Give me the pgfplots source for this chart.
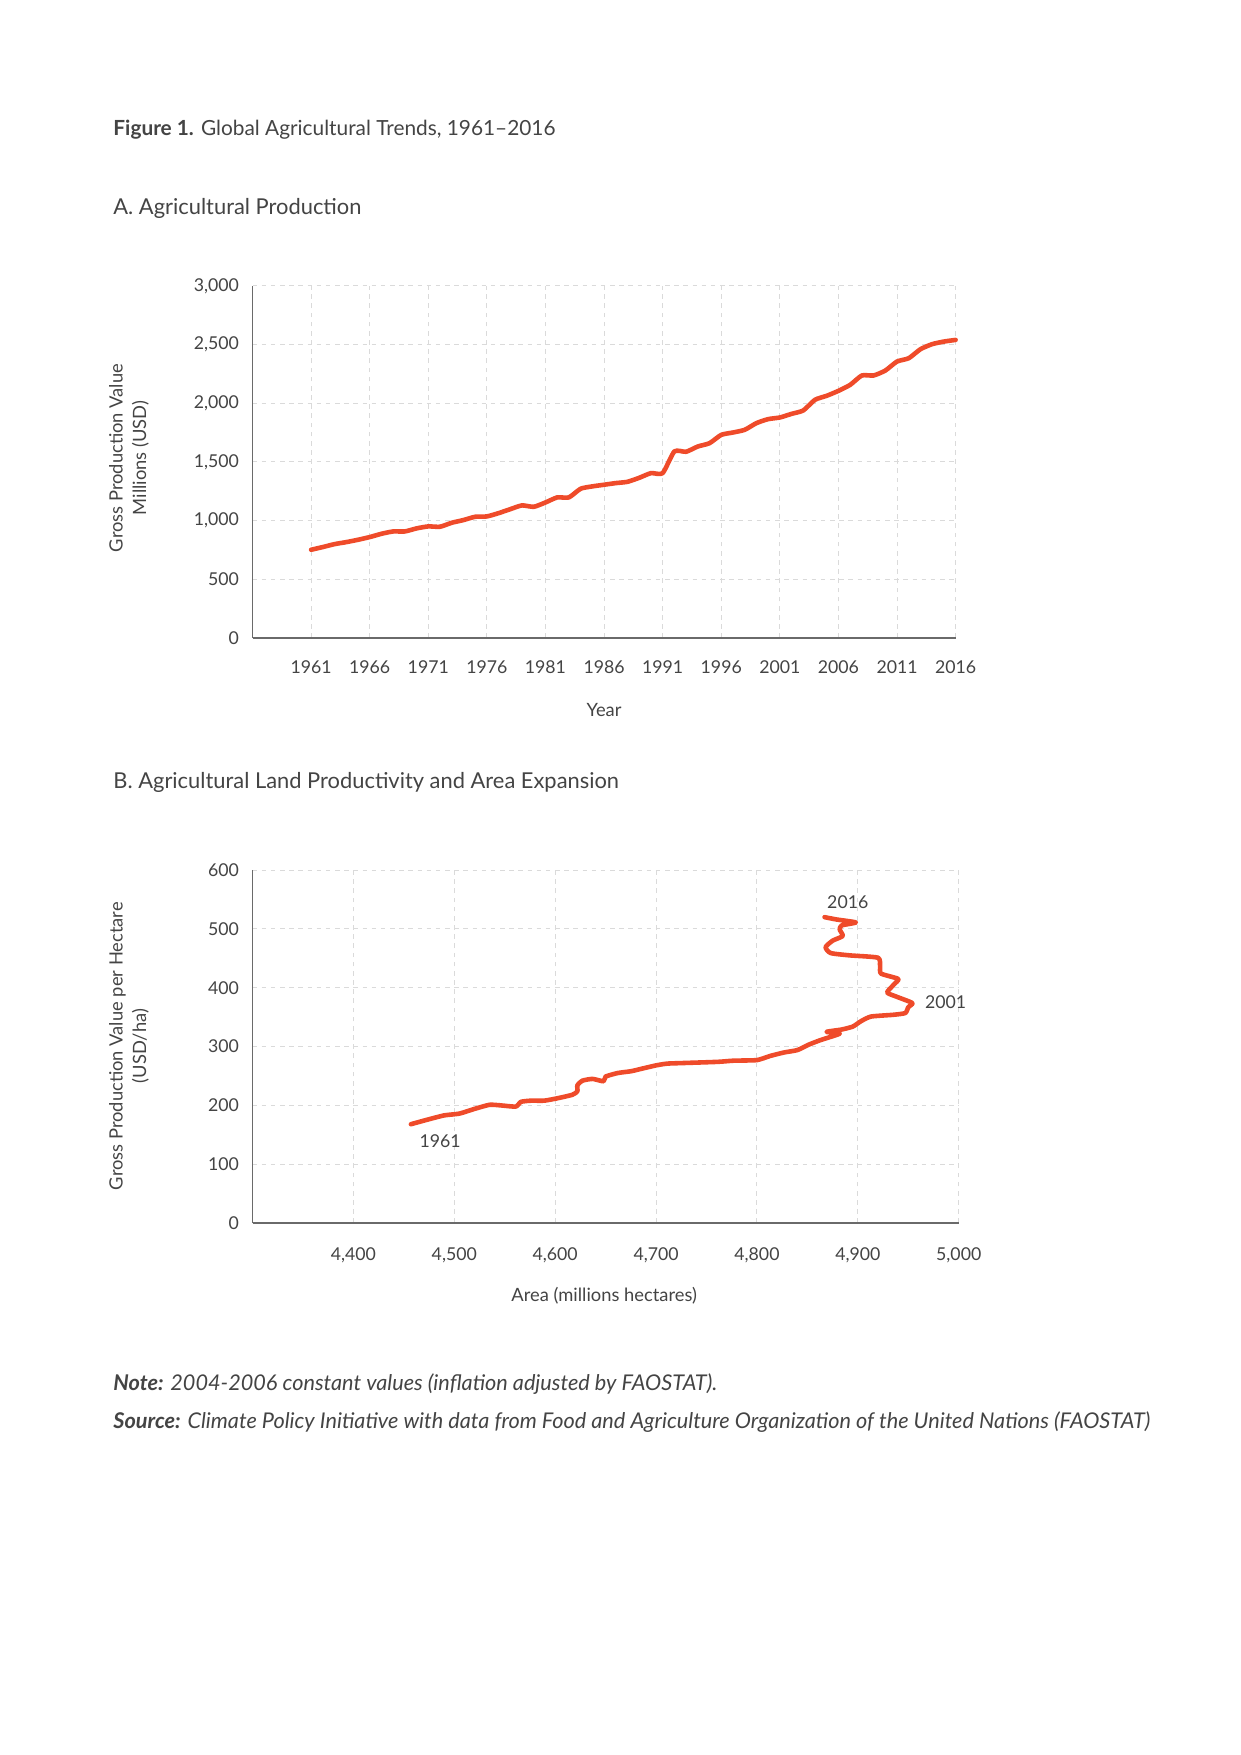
\documentclass[border=0pt]{standalone}
\usepackage{fontspec}
\setmainfont{Lato}
\usepackage{pgfplots}
\pgfplotsset{compat=1.18}
\definecolor{lineor}{HTML}{EF4B2A}
\definecolor{txt}{HTML}{444444}
\definecolor{gridc}{HTML}{DADADA}
\definecolor{axc}{HTML}{6A6A6A}

\pgfplotsset{
  farm/.style={
    scale only axis,
    anchor=south west,
    axis lines*=left,
    axis line style={axc, line width=0.6pt},
    grid=major,
    grid style={gridc, line width=0.5pt, dash pattern=on 2.2pt off 2.2pt},
    major tick length=0pt,
    tick label style={font=\fontsize{8.5}{9}\selectfont, text=txt},
    /pgf/number format/assume math mode=true,
    /pgf/number format/1000 sep={,},
    yticklabel style={xshift=-3pt},
    label style={font=\fontsize{8.8}{11.3}\selectfont, text=txt},
    clip=false,
  },
  trend/.style={lineor, line width=2.2pt, line join=round, line cap=round, smooth, tension=0.35},
}

\begin{document}
\begin{tikzpicture}[x=0.48pt,y=-0.48pt]
\fill[white] (0,0) rectangle (1241,1755);
\useasboundingbox (0,0) rectangle (1241,1755);
\coordinate (originA) at (252.5,638);
\coordinate (originB) at (252.5,1223);

\node[anchor=base west, inner sep=0, text=txt, font=\fontsize{10}{12}\selectfont] at (113,135)
  {\textbf{Figure 1.} Global Agricultural Trends, 1961–2016};
\node[anchor=base west, inner sep=0, text=txt, font=\fontsize{10.5}{12}\selectfont] at (113,214.5)
  {A. Agricultural Production};

% A. production, millions USD
\begin{axis}[farm,
  at={(originA)},
  width=337.5pt, height=169pt,
  xmin=1956, xmax=2016, ymin=0, ymax=3000,
  xtick={1961,1966,...,2016},
  ytick={0,500,...,3000},
  xticklabel style={/pgf/number format/1000 sep={}, yshift=-7.5pt},
  xlabel={Year},
  xlabel style={at={(axis description cs:0.5,-0.205)}, anchor=center},
  ylabel={Gross Production Value\\Millions (USD)},
  ylabel style={at={(axis description cs:-0.1756,0.511)}, anchor=center, align=center, rotate=0},
]
\addplot[trend] coordinates {
(1961,752) (1962,775) (1963,800) (1964,817) (1965,837) (1966,860)
(1967,888) (1968,908) (1969,908) (1970,934) (1971,951) (1972,948)
(1973,982) (1974,1005) (1975,1033) (1976,1036) (1977,1064) (1978,1098)
(1979,1130) (1980,1118) (1981,1155) (1982,1198) (1983,1198) (1984,1272)
(1985,1292) (1986,1306) (1987,1320) (1988,1331) (1989,1365) (1990,1405)
(1991,1405) (1992,1590) (1993,1587) (1994,1632) (1995,1660) (1996,1731)
(1997,1751) (1998,1774) (1999,1831) (2000,1865) (2001,1879) (2002,1910)
(2003,1939) (2004,2030) (2005,2064) (2006,2106) (2007,2157) (2008,2237)
(2009,2237) (2010,2279) (2011,2356) (2012,2384) (2013,2461) (2014,2504)
(2015,2526) (2016,2540)
};
\end{axis}

\node[anchor=base west, inner sep=0, text=txt, font=\fontsize{10.5}{12}\selectfont] at (113,788)
  {B. Agricultural Land Productivity and Area Expansion};

% B. area vs value per hectare
\begin{axis}[farm,
  at={(originB)},
  width=339pt, height=169.4pt,
  xmin=4300, xmax=5000, ymin=0, ymax=600,
  xtick={4400,4500,...,5000},
  ytick={0,100,...,600},
  xticklabel style={yshift=-8.5pt},
  xlabel={Area (millions hectares)},
  xlabel style={at={(axis description cs:0.498,-0.207)}, anchor=center},
  ylabel={Gross Production Value per Hectare\\(USD/ha)},
  ylabel style={at={(axis description cs:-0.175,0.501)}, anchor=center, align=center, rotate=0},
]
\addplot[trend] coordinates {
(4457,168) (4474,176) (4490,183) (4505,186) (4520,194) (4535,201)
(4546,200) (4561,198) (4566,206) (4576,208) (4589,208) (4602,212)
(4617,218) (4622,224) (4622,234) (4627,242) (4637,245) (4648,241)
(4650,249) (4662,255) (4675,258) (4685,262) (4700,268) (4711,271)
(4727,272) (4761,274) (4777,276) (4800,277) (4813,284) (4827,290)
(4840,294) (4851,303) (4863,311) (4882,322) (4869,325) (4884,329)
(4895,334) (4903,343) (4913,351) (4935,354) (4947,357) (4950,367)
(4954,374) (4938,385) (4929,392) (4936,406) (4940,415) (4923,424)
(4922,436) (4920,451) (4892,455) (4873,459) (4868,469) (4875,480)
(4885,488) (4882,499) (4884,506) (4898,511) (4879,516) (4867,520)
};
\node[text=txt, font=\fontsize{8.5}{9}\selectfont] at (axis cs:4890,546) {2016};
\node[text=txt, font=\fontsize{8.5}{9}\selectfont] at (axis cs:4987,376) {2001};
\node[text=txt, font=\fontsize{8.5}{9}\selectfont] at (axis cs:4486,139) {1961};
\end{axis}

\node[anchor=base west, inner sep=0, text=txt, font=\fontsize{10.4}{12}\selectfont\itshape] at (113,1390)
  {\textbf{Note:} 2004-2006 constant values (inflation adjusted by FAOSTAT).};
\node[anchor=base west, inner sep=0, text=txt, font=\fontsize{10.4}{12}\selectfont\itshape] at (113,1428)
  {\textbf{Source:} Climate Policy Initiative with data from Food and Agriculture Organization of the United Nations (FAOSTAT)};
\end{tikzpicture}
\end{document}
